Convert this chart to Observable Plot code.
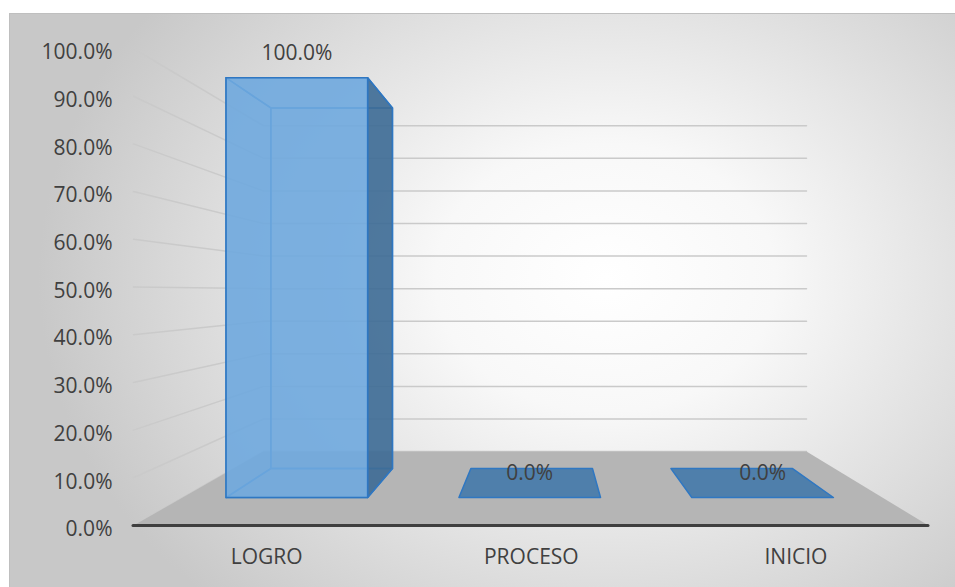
<!DOCTYPE html>
<html>
<head>
<meta charset="utf-8">
<script src="https://cdn.jsdelivr.net/npm/d3@7"></script>
<script src="https://cdn.jsdelivr.net/npm/@observablehq/plot@0.6"></script>
<style>
  html, body { margin: 0; padding: 0; background: #ffffff; }
  #wrap { position: relative; width: 955px; height: 587px; overflow: hidden; }
  #bg {
    position: absolute; left: 9px; top: 13px; width: 946px; height: 574px;
    box-sizing: border-box; border-left: 1px solid #bfbfbf; border-top: 1px solid #bfbfbf;
    background: radial-gradient(ellipse 60% 78% at 63% 46%, #ffffff 0%, #f8f8f8 30%, #e2e2e2 62%, #c8c8c8 100%);
  }
  #chart { position: absolute; left: 0; top: 0; }
</style>
</head>
<body>
<div id="wrap"><div id="bg"></div><div id="chart"></div></div>
<script>
// ---- data ----
const categories = ["LOGRO", "PROCESO", "INICIO"];
const values = [1.0, 0.0, 0.0];
const valueLabels = ["100.0%", "0.0%", "0.0%"];
const yTicks = [0, 0.1, 0.2, 0.3, 0.4, 0.5, 0.6, 0.7, 0.8, 0.9, 1.0];

// ---- 3D view parameters (in data units of the front plane) ----
const view = {
  vpU: 1.06, vpV: 0.489,      // vanishing point
  sBarFront: 0.88, sBarBack: 0.756, sBack: 0.683, // depth scale factors
  uMin: -0.49, uMax: 2.514,   // floor extent (category index units)
  half: 0.304                 // bar half width
};
const proj = (u, v, s) => ({x: view.vpU + (u - view.vpU) * s, y: view.vpV + (v - view.vpV) * s});

// grid lines: left side wall + back wall
const grid = yTicks.flatMap(t => [
  {id: t, ...proj(view.uMin, t, 1)},
  {id: t, ...proj(view.uMin, t, view.sBack)},
  {id: t, ...proj(view.uMax, t, view.sBack)}
]);

// floor
const floor = [
  proj(view.uMin, 0, 1), proj(view.uMax, 0, 1),
  proj(view.uMax, 0, view.sBack), proj(view.uMin, 0, view.sBack), proj(view.uMin, 0, 1)
];

// bar faces
function quad(id, pts) { return pts.concat([pts[0]]).map(p => ({id, ...proj(p[0], p[1], p[2])})); }
const inner = [], rightFaces = [], frontFaces = [], flatFaces = [];
values.forEach((val, i) => {
  const l = i - view.half, r = i + view.half, f = view.sBarFront, b = view.sBarBack;
  if (val > 0) {
    inner.push(...quad(`bottom${i}`, [[l,0,f],[r,0,f],[r,0,b],[l,0,b]]));
    inner.push(...quad(`back${i}`, [[l,0,b],[r,0,b],[r,val,b],[l,val,b]]));
    inner.push(...quad(`left${i}`, [[l,0,f],[l,0,b],[l,val,b],[l,val,f]]));
    inner.push(...quad(`top${i}`, [[l,val,f],[r,val,f],[r,val,b],[l,val,b]]));
    rightFaces.push(...quad(`right${i}`, [[r,0,f],[r,0,b],[r,val,b],[r,val,f]]));
    frontFaces.push(...quad(`front${i}`, [[l,0,f],[r,0,f],[r,val,f],[l,val,f]]));
  } else {
    flatFaces.push(...quad(`flat${i}`, [[l,0,f],[r,0,f],[r,0,b],[l,0,b]]));
  }
});

const chart = Plot.plot({
  width: 955, height: 587,
  marginLeft: 133, marginRight: 27, marginTop: 48, marginBottom: 62,
  x: {domain: [view.uMin, view.uMax], axis: null},
  y: {domain: [0, 1], axis: null},
  style: {fontFamily: "'Open Sans', sans-serif", fontSize: "21px", color: "#404040", background: "transparent"},
  marks: [
    Plot.line(grid, {x: "x", y: "y", z: "id", stroke: "#cacaca", strokeWidth: 1.5}),
    Plot.line(floor, {x: "x", y: "y", fill: "#b5b5b5", stroke: "none"}),
    Plot.ruleY([0], {x1: view.uMin, x2: view.uMax, stroke: "#3f3f3f", strokeWidth: 3, strokeLinecap: "round"}),
    Plot.line(flatFaces, {x: "x", y: "y", z: "id", fill: "#4f7fab", stroke: "#2f77c2", strokeWidth: 1.5}),
    Plot.line(inner, {x: "x", y: "y", z: "id", fill: "#5b9bd5", fillOpacity: 0.15, stroke: "#3a84cc", strokeWidth: 1.5}),
    Plot.line(rightFaces, {x: "x", y: "y", z: "id", fill: "#3e6b95", fillOpacity: 0.9, stroke: "#2f77c2", strokeWidth: 1.5}),
    Plot.line(frontFaces, {x: "x", y: "y", z: "id", fill: "#6ea8de", fillOpacity: 0.88, stroke: "#2f77c2", strokeWidth: 1.5}),
    Plot.axisY(yTicks, {label: null, tickSize: 0, tickPadding: 21, tickFormat: d3.format(".1%"), dy: 4, fontSize: 21, fill: "#404040"}),
    Plot.text(categories, {x: (d, i) => proj(i, values[i], view.sBarFront).x, y: (d, i) => proj(i, values[i], view.sBarFront).y,
      text: (d, i) => valueLabels[i], dy: -24, fontSize: 21, fill: "#404040"}),
    Plot.text(categories, {x: (d, i) => i, y: 0, text: d => d, dy: 32, dx: 3.5, fontSize: 21, fill: "#404040"})
  ]
});
document.getElementById("chart").appendChild(chart);
</script>
</body>
</html>
